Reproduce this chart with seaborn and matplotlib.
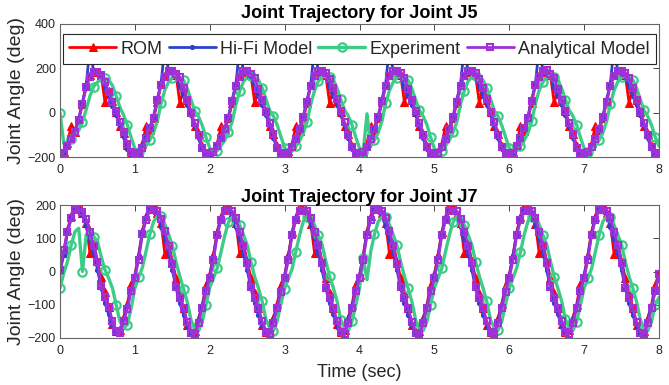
import numpy as np
import matplotlib
matplotlib.use("Agg")
import matplotlib.pyplot as plt
import seaborn as sns

# ---------------- data (sampled every 0.05 s, 0..8 s) ----------------
time = np.round(np.arange(161) * 0.05, 2)

series_names = ["ROM", "Hi-Fi Model", "Experiment", "Analytical Model"]

j5_rom = [
    -190,-178,-138,-58,-85,-30,40,128,168,183,183,168,50,100,52,3,-62,-92,-148,-182,
    -186,-176,-142,-60,-78,-24,46,132,171,186,186,171,44,106,56,4,-58,-96,-151,-181,
    -185,-175,-140,-62,-80,-26,45,130,170,185,184,170,46,104,55,6,-60,-95,-150,-180,
    -184,-174,-141,-59,-81,-25,44,131,169,186,185,169,45,105,54,5,-61,-94,-149,-181,
    -186,-176,-139,-61,-79,-24,46,129,171,184,186,171,47,106,56,4,-59,-96,-151,-180,
    -185,-175,-140,-60,-80,-25,45,130,170,185,185,170,44,104,55,5,-60,-95,-150,-181,
    -184,-176,-141,-61,-81,-26,44,131,171,186,184,169,46,105,54,6,-61,-94,-149,-180,
    -186,-175,-139,-59,-79,-24,46,130,169,185,186,170,45,106,56,4,-59,-96,-151,-182,
    -186]

j5_hifi = [
    -188,-176,-146,-115,-80,-28,48,122,300,182,178,162,112,72,32,-12,-58,-110,-162,-186,
    -186,-178,-150,-112,-66,-14,62,132,300,186,182,166,116,76,36,-10,-60,-116,-166,-187,
    -187,-177,-149,-111,-67,-16,60,130,298,186,181,165,114,75,35,-9,-61,-114,-164,-186,
    -185,-178,-151,-113,-69,-15,59,129,302,184,180,164,115,74,34,-11,-59,-115,-165,-185,
    -186,-179,-150,-112,-68,-14,61,131,300,185,181,166,116,76,35,-10,-60,-116,-166,-186,
    -187,-178,-149,-113,-67,-15,60,130,299,186,180,165,114,75,36,-9,-61,-115,-164,-185,
    -186,-177,-151,-112,-68,-16,61,131,301,185,182,164,115,74,34,-10,-60,-114,-165,-186,
    -185,-178,-150,-111,-69,-15,60,130,300,184,181,165,116,75,35,-11,-59,-115,-166,-187,
    -188]

j5_exp = [
    0,-138,-130,-118,-100,-80,-42,15,75,118,138,148,155,148,122,75,25,-12,-55,-112,
    -162,-178,-170,-150,-122,-90,-38,42,102,138,158,166,160,146,108,58,8,-18,-58,-112,
    -160,-180,-172,-148,-125,-88,-40,38,98,140,160,164,158,148,112,62,10,-15,-55,-108,
    -158,-178,-174,-152,-126,-92,-42,40,100,142,162,165,160,150,110,60,12,-14,-56,-110,
    -160,-176,-5,-150,-124,-90,-38,42,100,138,158,166,162,146,108,58,10,-16,-54,-112,
    -162,-179,-171,-149,-123,-89,-41,39,99,141,161,165,159,147,111,61,9,-17,-57,-109,
    -159,-177,-173,-151,-125,-91,-39,41,101,139,159,167,161,149,109,59,11,-15,-55,-111,
    -161,-178,-172,-150,-124,-90,-40,40,100,140,160,165,160,148,110,60,10,-16,-56,-110,
    -152]

j5_ana = [
    -190,-180,-150,-120,-86,-33,40,115,160,183,182,170,140,95,50,8,-40,-88,-140,-178,
    -188,-182,-158,-116,-70,-24,55,125,160,187,190,175,160,111,55,0,-48,-100,-160,-184,
    -190,-178,-152,-115,-72,-22,52,122,163,188,190,176,155,108,58,5,-45,-98,-158,-183,
    -189,-180,-154,-118,-74,-20,50,120,165,186,189,178,154,110,60,6,-44,-100,-156,-182,
    -190,-179,-153,-117,-73,-21,51,121,164,187,190,177,156,109,59,7,-46,-99,-157,-183,
    -188,-181,-155,-119,-75,-19,49,119,166,186,188,178,153,111,61,4,-43,-101,-155,-184,
    -190,-180,-152,-116,-71,-23,53,123,162,188,191,175,157,107,57,6,-47,-97,-159,-182,
    -189,-179,-154,-118,-74,-20,50,121,164,187,189,177,155,110,59,5,-45,-100,-157,-183,
    -190]

j7_rom = [
    10,55,125,168,198,192,176,145,55,85,32,-18,-62,-108,-158,-180,-176,-138,-98,-38,
    -10,50,121,166,199,190,175,146,54,86,30,-21,-66,-111,-161,-183,-179,-141,-101,-41,
    -9,51,120,165,198,191,174,145,56,84,31,-20,-64,-110,-160,-182,-178,-140,-99,-40,
    -11,49,119,164,197,189,176,144,55,85,29,-19,-65,-109,-159,-181,-177,-139,-100,-39,
    -10,50,121,166,198,190,175,146,54,86,30,-21,-66,-111,-161,-183,-179,-141,-101,-41,
    -9,51,120,165,199,191,174,145,56,84,31,-20,-64,-110,-160,-182,-178,-140,-99,-40,
    -11,49,119,164,198,189,176,144,55,85,29,-19,-65,-109,-159,-181,-177,-139,-100,-39,
    -10,50,120,165,197,190,175,145,54,86,30,-20,-66,-110,-160,-182,-178,-140,-101,-40,
    -5]

j7_hifi = [
    0,50,118,162,188,189,171,136,96,56,6,-49,-94,-129,-164,-184,-179,-144,-104,-54,
    -15,45,115,160,188,188,170,135,95,55,5,-50,-95,-130,-165,-185,-180,-145,-105,-55,
    -16,44,116,159,187,189,169,134,96,54,6,-51,-94,-131,-164,-186,-181,-146,-104,-56,
    -14,46,114,161,189,187,171,136,94,56,4,-49,-96,-129,-166,-184,-179,-144,-106,-54,
    -15,45,115,160,188,188,170,135,95,55,5,-50,-95,-130,-165,-185,-180,-145,-105,-55,
    -16,44,116,159,187,189,169,134,96,54,6,-51,-94,-131,-164,-186,-181,-146,-104,-56,
    -14,46,114,161,189,187,171,136,94,56,4,-49,-96,-129,-166,-184,-179,-144,-106,-54,
    -15,45,115,160,188,188,170,135,95,55,5,-50,-95,-130,-165,-185,-180,-145,-105,-55,
    -12]

j7_exp = [
    -50,-5,30,80,120,130,0,110,125,105,90,45,5,-20,-50,-100,-150,-170,-160,-110,
    -50,-18,12,62,112,150,166,168,142,112,78,28,-14,-52,-92,-146,-171,-177,-152,-100,
    -48,-20,10,58,108,148,164,165,140,110,80,30,-16,-50,-90,-144,-169,-178,-150,-98,
    -52,-22,8,60,110,151,165,166,139,109,81,31,-15,-49,-89,-145,-170,-179,-149,-101,
    -50,40,-25,60,112,150,164,165,141,111,79,29,-15,-51,-91,-146,-171,-178,-151,-100,
    -49,-20,10,61,109,149,166,164,140,110,80,30,-14,-50,-90,-145,-170,-177,-150,-99,
    -51,-19,11,59,111,151,165,166,141,109,81,31,-16,-51,-89,-144,-169,-178,-151,-101,
    -50,-21,9,60,110,150,165,165,140,110,80,30,-15,-50,-90,-145,-170,-178,-150,-100,
    -78]

j7_ana = [
    5,65,120,160,185,191,180,158,120,76,30,-45,-78,-108,-148,-180,-186,-150,-112,-58,
    -20,36,112,156,184,190,181,159,121,78,24,-48,-81,-111,-151,-184,-189,-156,-109,-60,
    -21,35,110,154,183,191,182,160,119,77,26,-47,-80,-110,-150,-183,-188,-155,-111,-61,
    -19,34,111,155,182,190,183,161,120,79,25,-49,-79,-109,-149,-182,-187,-154,-110,-59,
    -20,36,109,156,184,189,182,160,121,78,24,-48,-81,-111,-151,-184,-189,-156,-110,-60,
    -21,35,110,155,183,190,181,159,120,77,25,-47,-80,-110,-150,-183,-188,-155,-109,-61,
    -20,34,111,154,182,191,182,161,119,78,26,-48,-79,-109,-149,-182,-187,-154,-111,-60,
    -19,36,110,156,184,190,183,160,120,79,25,-49,-81,-111,-151,-184,-188,-155,-110,-59,
    -8]

j5_yticks = [-200, 0, 200, 400]
j7_yticks = [-200, -100, 0, 100, 200]
x_ticks = [0, 1, 2, 3, 4, 5, 6, 7, 8]

# ---------------- styling ----------------
sns.set_theme(style="white")
plt.rcParams["font.family"] = ["Liberation Sans", "DejaVu Sans"]

styles = {
    "ROM": dict(color="#ff0000", lw=2.0, marker="^", ms=6, mfc="#ff0000", mec="#ff0000", markevery=1),
    "Hi-Fi Model": dict(color="#2f3fd0", lw=2.0, marker="o", ms=3, mfc="#2f3fd0", mec="#2f3fd0", markevery=1),
    "Experiment": dict(color="#3dcc87", lw=2.4, marker="o", ms=6, mfc="none", mec="#3dcc87", mew=1.6, markevery=3),
    "Analytical Model": dict(color="#a030d8", lw=2.0, marker="s", ms=5, mfc="none", mec="#a030d8", mew=1.5, markevery=1),
}

fig = plt.figure(figsize=(6.69, 3.85), dpi=100)
ax1 = fig.add_axes([60 / 669, 1 - 157 / 385, 599 / 669, 133 / 385])
ax2 = fig.add_axes([60 / 669, 1 - 338 / 385, 599 / 669, 133 / 385])

panels = [
    (ax1, [j5_rom, j5_hifi, j5_exp, j5_ana], "Joint Trajectory for Joint J5", (-200, 400), j5_yticks),
    (ax2, [j7_rom, j7_hifi, j7_exp, j7_ana], "Joint Trajectory for Joint J7", (-200, 200), j7_yticks),
]

for i, (ax, data, title, ylim, yticks) in enumerate(panels):
    for name, vals in zip(series_names, data):
        kw = dict(styles[name])
        sns.lineplot(x=time, y=np.array(vals, dtype=float), ax=ax, estimator=None,
                     sort=False, label=name if i == 0 else None, **kw)
    ax.set_xlim(0, 8)
    ax.set_ylim(*ylim)
    ax.set_xticks(x_ticks)
    ax.set_yticks(yticks)
    ax.set_title(title, fontsize=13, fontweight="bold", pad=4 if i == 0 else 2, color="black")
    ax.set_ylabel("Joint Angle (deg)", fontsize=14, color="#262626", labelpad=2)
    ax.tick_params(direction="in", top=True, right=True, length=4, width=0.6,
                   colors="#262626", labelsize=9)
    ax.tick_params(axis="x", pad=5)
    ax.tick_params(axis="y", pad=3)
    for sp in ax.spines.values():
        sp.set_color("#666666")
        sp.set_linewidth(0.8)
    if ax.get_legend() is not None:
        ax.get_legend().remove()

ax2.set_xlabel("Time (sec)", fontsize=13, color="#262626", labelpad=5)

handles, labels = ax1.get_legend_handles_labels()
leg = ax1.legend(handles, labels, ncol=4, loc="lower left", mode="expand",
                 bbox_to_anchor=(0.005, 0.70, 0.99, 0.21), fontsize=13,
                 frameon=True, fancybox=False, framealpha=1, edgecolor="#262626",
                 handlelength=2.6, handletextpad=0.25, columnspacing=0.6,
                 borderpad=0.35, borderaxespad=0, numpoints=1)
leg.get_frame().set_linewidth(0.8)
leg.set_zorder(10)

fig.savefig("out.png", dpi=100)
